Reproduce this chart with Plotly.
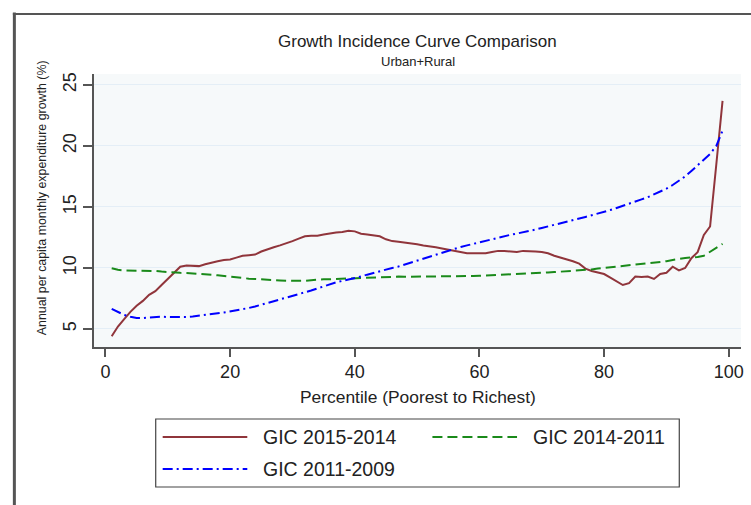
import plotly.graph_objects as go

# Percentiles of per capita monthly expenditure
percentile = list(range(1, 100))

# Annualized growth rates (%) by percentile
gic_2015_2014 = [
    4.4, 5.2, 5.8, 6.4, 6.9, 7.3, 7.8, 8.1, 8.6, 9.1,
    9.6, 10.1, 10.2, 10.2, 10.15, 10.3, 10.45, 10.55, 10.65, 10.7,
    10.85, 11.0, 11.05, 11.1, 11.35, 11.55, 11.7, 11.85, 12.0, 12.2,
    12.4, 12.6, 12.65, 12.65, 12.75, 12.85, 12.9, 12.95, 13.05, 13.0,
    12.8, 12.75, 12.7, 12.6, 12.35, 12.2, 12.15, 12.1, 12.05, 11.95,
    11.85, 11.8, 11.7, 11.6, 11.5, 11.45, 11.3, 11.2, 11.2, 11.2,
    11.2, 11.3, 11.4, 11.4, 11.35, 11.3, 11.4, 11.4, 11.35, 11.3,
    11.2, 11.0, 10.85, 10.75, 10.55, 10.35, 9.95, 9.75, 9.65, 9.5,
    9.2, 8.9, 8.6, 8.75, 9.3, 9.25, 9.3, 9.1, 9.5, 9.6,
    10.1, 9.8, 10.0, 10.8, 11.3, 12.7, 13.4, 18.5, 23.7,
]
gic_2014_2011 = [
    9.97, 9.85, 9.8, 9.8, 9.78, 9.78, 9.78, 9.75, 9.7, 9.65,
    9.6, 9.6, 9.58, 9.56, 9.55, 9.5, 9.45, 9.4, 9.33, 9.3,
    9.25, 9.18, 9.12, 9.08, 9.05, 9.02, 9.0, 8.98, 8.96, 8.95,
    8.93, 8.95, 9.0, 9.05, 9.07, 9.08, 9.1, 9.12, 9.14, 9.15,
    9.18, 9.22, 9.25, 9.28, 9.29, 9.29, 9.29, 9.28, 9.28, 9.29,
    9.29, 9.29, 9.29, 9.3, 9.3, 9.3, 9.3, 9.32, 9.34, 9.36,
    9.38, 9.4, 9.43, 9.46, 9.48, 9.5, 9.52, 9.55, 9.58, 9.6,
    9.63, 9.66, 9.69, 9.7, 9.74, 9.8, 9.84, 9.88, 9.95, 10.0,
    10.06, 10.12, 10.17, 10.22, 10.26, 10.3, 10.35, 10.4, 10.48, 10.55,
    10.65, 10.75, 10.82, 10.87, 10.9, 11.0, 11.3, 11.6, 11.97,
]
gic_2011_2009 = [
    6.64, 6.4, 6.15, 6.0, 5.9, 5.9, 5.95, 6.0, 6.0, 5.98,
    5.96, 5.96, 5.98, 6.02, 6.07, 6.12, 6.2, 6.28, 6.35, 6.43,
    6.52, 6.62, 6.72, 6.84, 6.98, 7.15, 7.3, 7.45, 7.58, 7.72,
    7.85, 8.0, 8.15, 8.32, 8.5, 8.7, 8.82, 8.94, 9.05, 9.15,
    9.3, 9.45, 9.6, 9.73, 9.88, 10.0, 10.12, 10.28, 10.45, 10.62,
    10.78, 10.95, 11.1, 11.28, 11.42, 11.58, 11.72, 11.85, 11.98, 12.1,
    12.22, 12.35, 12.52, 12.62, 12.72, 12.82, 12.92, 13.05, 13.15, 13.28,
    13.4, 13.52, 13.65, 13.78, 13.9, 14.05, 14.18, 14.32, 14.45, 14.58,
    14.75, 14.92, 15.08, 15.25, 15.42, 15.62, 15.8, 16.02, 16.25, 16.5,
    16.8, 17.15, 17.5, 17.95, 18.4, 18.85, 19.35, 20.0, 21.25,
]

x_ticks = [0, 20, 40, 60, 80, 100]
y_ticks = [5, 10, 15, 20, 25]

series = [
    ("GIC 2015-2014", gic_2015_2014, "#90353b", "solid"),
    ("GIC 2014-2011", gic_2014_2011, "#1a8a1a", "10px,5px"),
    ("GIC 2011-2009", gic_2011_2009, "#0000ff", "10px,4px,2px,4px"),
]

FONT = "Liberation Sans, Arial, sans-serif"
TEXT = "#222222"
W, H = 751, 505
L, R, T, B = 94, 744, 74, 347  # plot area in pixels


def px(x):
    return (x - L) / (R - L)


def py(y):
    return (B - y) / (B - T)


fig = go.Figure()
for name, vals, color, dash in series:
    fig.add_trace(go.Scatter(
        x=percentile, y=vals, mode="lines", name=name,
        line=dict(color=color, width=2, dash=dash),
        showlegend=False,
    ))

shapes = [
    # outer frame (left and top edges)
    dict(type="line", xref="paper", yref="paper", x0=px(14), x1=px(14),
         y0=py(12.5), y1=py(510), line=dict(color="#555555", width=3)),
    dict(type="line", xref="paper", yref="paper", x0=px(12.5), x1=px(760),
         y0=py(14), y1=py(14), line=dict(color="#555555", width=2)),
    # legend box
    dict(type="rect", xref="paper", yref="paper", x0=px(156), x1=px(682),
         y0=py(419), y1=py(487), line=dict(color="#444444", width=1.2),
         fillcolor="white", layer="below"),
]

annotations = [
    dict(text="Growth Incidence Curve Comparison", x=px(419), y=py(42),
         font=dict(size=17, color=TEXT, family=FONT)),
    dict(text="Urban+Rural", x=px(420), y=py(62),
         font=dict(size=13, color=TEXT, family=FONT)),
    dict(text="Annual per capita monthly expenditure growth (%)", x=px(42), y=py(198),
         textangle=-90, font=dict(size=12.4, color=TEXT, family=FONT)),
    dict(text="Percentile (Poorest to Richest)", x=px(420), y=py(397),
         font=dict(size=17.4, color=TEXT, family=FONT)),
]

# legend entries: sample line plus label
legend_pos = [(163, 437), (434, 437), (163, 469)]
for (name, _, color, dash), (lx, ly) in zip(series, legend_pos):
    shapes.append(dict(type="line", xref="paper", yref="paper",
                       x0=px(lx), x1=px(lx + 85), y0=py(ly), y1=py(ly),
                       line=dict(color=color, width=2, dash=dash)))
    annotations.append(dict(text=name, x=px(lx + 99), y=py(ly), xanchor="left",
                            font=dict(size=19.5, color=TEXT, family=FONT)))

for a in annotations:
    a.update(xref="paper", yref="paper", showarrow=False)
    a.setdefault("xanchor", "center")
    a.setdefault("yanchor", "middle")

fig.update_layout(
    width=W, height=H,
    margin=dict(l=L, r=W - R, t=T, b=H - B, pad=0),
    paper_bgcolor="white",
    plot_bgcolor="#f6f9fa",
    font=dict(family=FONT, color=TEXT),
    shapes=shapes,
    annotations=annotations,
    xaxis=dict(
        range=[-1.84, 101.96], tickvals=x_ticks, ticktext=[str(v) for v in x_ticks],
        showgrid=False, zeroline=False, showline=True, linecolor="#555555", linewidth=1.5,
        ticks="outside", ticklen=8, tickwidth=1.5, tickcolor="#555555",
        tickfont=dict(size=18, color=TEXT, family=FONT),
    ),
    yaxis=dict(
        range=[3.52, 25.9], tickvals=y_ticks, ticktext=[str(v) for v in y_ticks],
        showgrid=True, gridcolor="#e4eef6", gridwidth=1, zeroline=False,
        showline=True, linecolor="#555555", linewidth=1.5,
        ticks="outside", ticklen=9, tickwidth=1.5, tickcolor="#555555",
        tickangle=-90, tickfont=dict(size=18, color=TEXT, family=FONT),
    ),
)

fig.write_html("out.html")
